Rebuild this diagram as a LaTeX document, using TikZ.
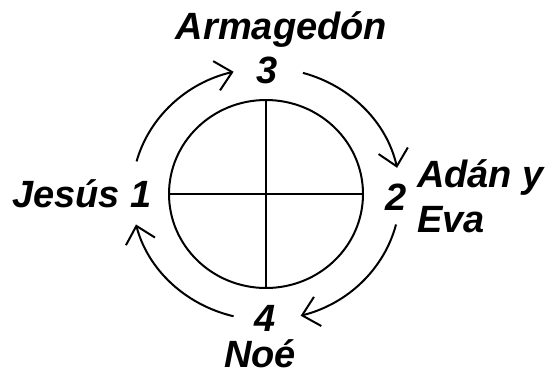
\documentclass[tikz,border=0pt]{standalone}
\usepackage{fontspec}
\setmainfont{Liberation Sans}
\usetikzlibrary{positioning,calc}
\usetikzlibrary{arrows.meta,shapes.geometric}
\definecolor{InkBlack}{RGB}{0,0,0}
\tikzset{
	disc/.style={ellipse,draw=InkBlack,line width=2pt,inner sep=0pt,
		minimum width=194pt,minimum height=188pt},
	ln/.style={draw=InkBlack,line width=2pt},
	cyc/.style={draw=InkBlack,line width=2pt,-{Straight Barb[length=16pt,width=30pt]}},
	lbl/.style={font=\fontsize{38}{44}\selectfont\bfseries\itshape,inner sep=0pt,anchor=base},
}
\begin{document}
\begin{tikzpicture}[x=1pt,y=1pt]
					\useasboundingbox (0,0) rectangle (548,376);
					\node[disc] (o) at (266,182) {};
					\draw[ln] (o.west)--(o.east);
					\draw[ln] (o.north)--(o.south);
					\foreach \a/\b/\n in {165/104/1,74/12/2,-14/-75/3,-104/-166/4}{
						\coordinate (s\n) at ($(o.center)+(\a:134pt and 126pt)$);
						\draw[cyc] (s\n) arc[start angle=\a,end angle=\b,x radius=134pt,y radius=126pt];
					}
					\node[lbl] (arm) at (281.5,337) {Armagedón};
					\node[lbl] (n3) at (267.5,293) {3};
					\node[lbl,anchor=base west] (jes) at (12,169) {Jesús 1};
					\node[lbl] (n2) at (396,166) {2};
					\node[lbl,anchor=base west] (ada) at (417,189) {Adán y};
					\node[lbl,anchor=base west] (eva) at (417,144) {Eva};
					\node[lbl] (n4) at (265,45) {4};
					\node[lbl] (noe) at (260,9) {Noé};
				\end{tikzpicture}
\end{document}
